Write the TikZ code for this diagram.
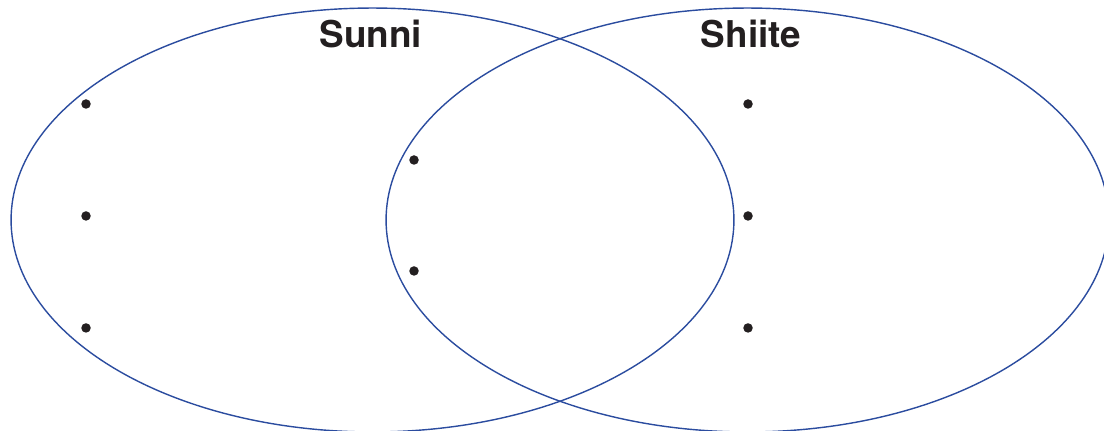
\documentclass[tikz,border=0pt]{standalone}
\usepackage{fontspec}
\newfontfamily\headfont{TeX Gyre Heros}
\usepackage{xcolor}
\definecolor{vennblue}{HTML}{2B4C9F}
\definecolor{vennink}{HTML}{231F20}
\usepackage{tikz}
\usetikzlibrary{positioning}

\begin{document}
\begin{tikzpicture}[x=0.02cm, y=-0.02cm,
  venn/.style={draw=vennblue, line width=0.8pt},
  heading/.style={font=\headfont\bfseries\fontsize{21}{24}\selectfont, text=vennink, inner sep=0pt},
  bullet/.style={circle, fill=vennink, inner sep=0pt, minimum size=0.19cm}
]
\useasboundingbox (0,0) rectangle (1104,431);
\clip (0,0) rectangle (1104,431);

% the two sets
\draw[venn] (372.5,220) ellipse [x radius=7.23cm, y radius=4.24cm];
\draw[venn] (747.5,220) ellipse [x radius=7.23cm, y radius=4.24cm];

\node[heading] (sunni) at (371,34) {Sunni};
\node[heading] (shiite) at (751,34) {Shiite};

% bullets, left set only
\node[bullet] (l1) at (86,104) {};
\node[bullet, below=2.24cm of l1.center, anchor=center] (l2) {};
\node[bullet, below=2.24cm of l2.center, anchor=center] (l3) {};

% bullets, overlap
\node[bullet] (m1) at (414,160) {};
\node[bullet, below=2.22cm of m1.center, anchor=center] (m2) {};

% bullets, right set only
\node[bullet] (r1) at (748,104) {};
\node[bullet, below=2.24cm of r1.center, anchor=center] (r2) {};
\node[bullet, below=2.24cm of r2.center, anchor=center] (r3) {};
\end{tikzpicture}
\end{document}
